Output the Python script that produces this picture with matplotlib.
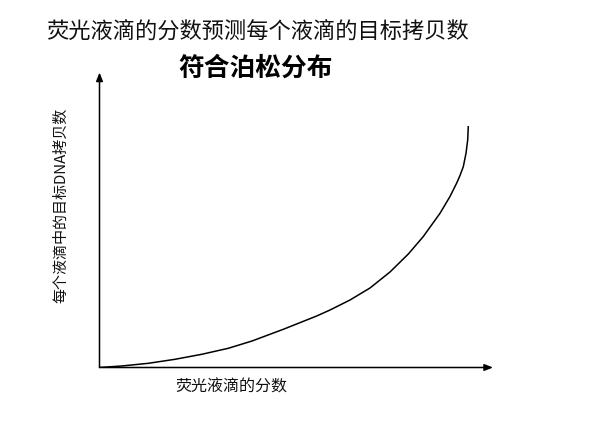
import matplotlib
matplotlib.use('Agg')
import matplotlib.pyplot as plt

plt.rcParams['font.family'] = ['Noto Sans CJK SC', 'DejaVu Sans']

# 读图得到的曲线点（横轴: 荧光液滴的分数, 纵轴: 每个液滴的拷贝数, 相对单位）
frac_pos = [0.0, 0.0564, 0.1240, 0.1919, 0.2597, 0.3273, 0.3875, 0.4671,
            0.5520, 0.5858, 0.6366, 0.6874, 0.7382, 0.7848, 0.8229, 0.8653,
            0.8907, 0.9078, 0.9161, 0.9245, 0.9314, 0.9357, 0.9372]
copies = [0.0, 0.0051, 0.0142, 0.0278, 0.0447, 0.0651, 0.0898, 0.1295,
          0.1746, 0.1949, 0.2288, 0.2695, 0.3237, 0.3847, 0.4441, 0.5227,
          0.5797, 0.6254, 0.6508, 0.6807, 0.7261, 0.7712, 0.8186]

title1 = '荧光液滴的分数预测每个液滴的目标拷贝数'
title2 = '符合泊松分布'
xlabel = '荧光液滴的分数'
ylabel = '每个液滴中的目标DNA拷贝数'

fig = plt.figure(figsize=(5.99, 4.21), dpi=100)
ax = fig.add_axes([99.5 / 599, 1 - 367.5 / 421, 393.5 / 599, 295 / 421])
ax.set_xlim(0, 1)
ax.set_ylim(0, 1)
ax.axis('off')

# 曲线
ax.plot(frac_pos, copies, color='black', linewidth=1.1,
        solid_capstyle='butt', solid_joinstyle='round')

# 坐标轴箭头
arrow = dict(arrowstyle='-|>,head_length=0.5,head_width=0.2', color='black',
             linewidth=1.1, shrinkA=0, shrinkB=0)
ax.annotate('', xy=(1, 0), xytext=(0, 0), arrowprops=arrow, clip_on=False)
ax.annotate('', xy=(0, 1), xytext=(0, 0), arrowprops=arrow, clip_on=False)

fig.text(0.43, 0.925, title1, ha='center', va='center', fontsize=16, color='#111111')
fig.text(0.427, 0.838, title2, ha='center', va='center', fontsize=18.5,
         fontweight='bold', color='black')
fig.text(0.386, 0.080, xlabel, ha='center', va='center', fontsize=11.5, color='#111111')
fig.text(0.102, 0.513, ylabel, ha='center', va='center', fontsize=10.8,
         rotation=90, color='#111111')

fig.savefig('out.png', dpi=100)
